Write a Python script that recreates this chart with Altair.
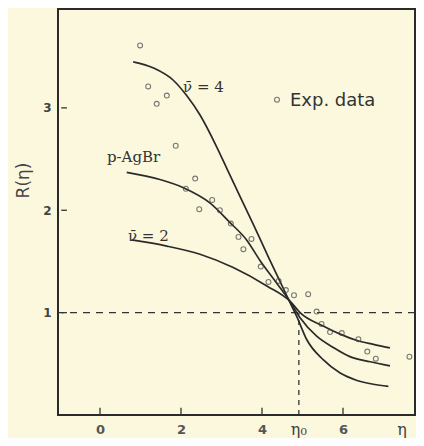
import altair as alt
import pandas as pd

# ---- data ----
exp_eta = [0.99, 1.19, 1.40, 1.65, 1.87, 2.12, 2.35, 2.45, 2.77, 2.96, 3.23, 3.42, 3.54, 3.74,
           3.97, 4.16, 4.41, 4.59, 4.79, 5.14, 5.35, 5.47, 5.68, 5.97, 6.38, 6.60, 6.81, 7.64]
exp_R = [3.61, 3.21, 3.04, 3.12, 2.63, 2.21, 2.31, 2.01, 2.10, 2.00, 1.87, 1.74, 1.62, 1.72,
         1.45, 1.30, 1.31, 1.22, 1.17, 1.18, 1.01, 0.89, 0.81, 0.80, 0.74, 0.62, 0.55, 0.57]

nu4_eta = [0.82, 1.32, 1.81, 2.14, 2.47, 2.88, 3.13, 3.50, 3.80, 4.15, 4.45, 4.69, 4.86, 5.10,
           5.51, 5.93, 6.33, 6.75, 7.12]
nu4_R = [3.45, 3.39, 3.27, 3.12, 2.93, 2.62, 2.41, 2.10, 1.85, 1.55, 1.30, 1.10, 0.96, 0.74,
         0.54, 0.41, 0.34, 0.30, 0.28]

agbr_eta = [0.66, 1.48, 2.06, 2.72, 3.21, 3.62, 3.95, 4.36, 4.69, 4.94, 5.35, 5.76, 6.17, 6.67, 7.16]
agbr_R = [2.37, 2.30, 2.22, 2.07, 1.88, 1.71, 1.51, 1.29, 1.11, 0.95, 0.77, 0.66, 0.57, 0.52, 0.48]

nu2_eta = [0.78, 1.65, 2.47, 3.29, 4.12, 4.72, 4.94, 5.51, 5.93, 6.33, 6.75, 7.16]
nu2_R = [1.71, 1.65, 1.57, 1.44, 1.26, 1.10, 1.00, 0.87, 0.79, 0.73, 0.69, 0.655]

x_ticks = [0, 2, 4, 6]
y_ticks = [1, 2, 3]
eta0 = 4.91

curve_labels = ["ν̄ = 4", "p-AgBr", "ν̄ = 2"]
curve_label_eta = [2.05, 0.17, 0.69]
curve_label_R = [3.20, 2.52, 1.75]

legend_text = "Exp. data"

# ---- styling ----
BG = "#fbf8de"
INK = "#2a2a2a"
XMIN, XMAX = -1.037, 7.778
YMIN, YMAX = 0, 3.966

xs = alt.Scale(domain=[XMIN, XMAX], nice=False, zero=False)
ys = alt.Scale(domain=[YMIN, YMAX], nice=False, zero=False)

curves = pd.concat([
    pd.DataFrame({"eta": nu4_eta, "R": nu4_R, "c": "nu4"}),
    pd.DataFrame({"eta": agbr_eta, "R": agbr_R, "c": "agbr"}),
    pd.DataFrame({"eta": nu2_eta, "R": nu2_R, "c": "nu2"}),
])
pts = pd.DataFrame({"eta": exp_eta, "R": exp_R})
labs = pd.DataFrame({"eta": curve_label_eta, "R": curve_label_R, "t": curve_labels})

x_enc = alt.X("eta:Q", scale=xs,
              axis=alt.Axis(values=x_ticks, format="d", title=None, ticks=False, domain=False, grid=False,
                            labelFont="DejaVu Sans", labelFontSize=13, labelFontWeight="bold",
                            labelColor="#555", labelPadding=8))
y_enc = alt.Y("R:Q", scale=ys,
              axis=alt.Axis(values=y_ticks, format="d", title="R(η)", ticks=False, domain=False, grid=False,
                            labelFont="DejaVu Sans", labelFontSize=12, labelFontWeight="bold",
                            labelColor="#444", labelPadding=7,
                            titleFont="DejaVu Sans", titleFontSize=17, titleFontWeight="normal",
                            titleColor="#444", titleX=-35, titleY=171,
                            titleAlign="center", titleBaseline="middle"))

line_layer = alt.Chart(curves).mark_line(color=INK, strokeWidth=1.7, interpolate="monotone").encode(
    x=x_enc, y=y_enc, detail="c:N")

pt_layer = alt.Chart(pts).mark_point(shape="circle", filled=False, size=24, strokeWidth=1.1,
                                     color="#444").encode(x="eta:Q", y="R:Q")

hline = alt.Chart(pd.DataFrame({"R": [1]})).mark_rule(color="#333", strokeWidth=1.3,
                                                       strokeDash=[7, 6]).encode(y="R:Q")
vline = alt.Chart(pd.DataFrame({"eta": [eta0], "R0": [0], "R1": [1]})).mark_rule(
    color="#333", strokeWidth=1.3, strokeDash=[5, 5]).encode(x="eta:Q", y="R0:Q", y2="R1:Q")

xtick_layer = alt.Chart(pd.DataFrame({"eta": x_ticks})).mark_rule(color="#333", strokeWidth=1.3).encode(
    x="eta:Q", y=alt.datum(0), y2=alt.datum(0.07))
ytick_layer = alt.Chart(pd.DataFrame({"R": y_ticks})).mark_rule(color="#333", strokeWidth=1.3).encode(
    y="R:Q", x=alt.datum(XMIN + 0.08), x2=alt.datum(XMIN + 0.22))

lab_layer = alt.Chart(labs).mark_text(align="left", baseline="middle", font="DejaVu Serif",
                                      fontSize=15, color="#333").encode(x="eta:Q", y="R:Q", text="t:N")

leg_pt = alt.Chart(pd.DataFrame({"eta": [4.37], "R": [3.08]})).mark_point(
    shape="circle", filled=False, size=24, strokeWidth=1.1, color="#444").encode(x="eta:Q", y="R:Q")
leg_txt = alt.Chart(pd.DataFrame({"eta": [4.69], "R": [3.07], "t": [legend_text]})).mark_text(
    align="left", baseline="middle", font="DejaVu Sans", fontSize=18, color="#333").encode(
    x="eta:Q", y="R:Q", text="t:N")

eta_labs = alt.Chart(pd.DataFrame({"eta": [eta0, 7.46], "R": [-0.15, -0.15], "t": ["η₀", "η"]})).mark_text(
    align="center", baseline="middle", font="DejaVu Serif", fontSize=16, color="#444").encode(
    x="eta:Q", y="R:Q", text="t:N")

chart = alt.layer(hline, vline, xtick_layer, ytick_layer, line_layer, pt_layer, lab_layer,
                  leg_pt, leg_txt, eta_labs).properties(
    width=357, height=406,
    autosize=alt.AutoSizeParams(type="none"),
    padding={"left": 50, "top": 1, "right": 1, "bottom": 23},
    background=BG,
).configure_view(stroke="#2a2a2a", strokeWidth=2)

chart.save("out.html", embed_options={"renderer": "svg", "actions": False})
